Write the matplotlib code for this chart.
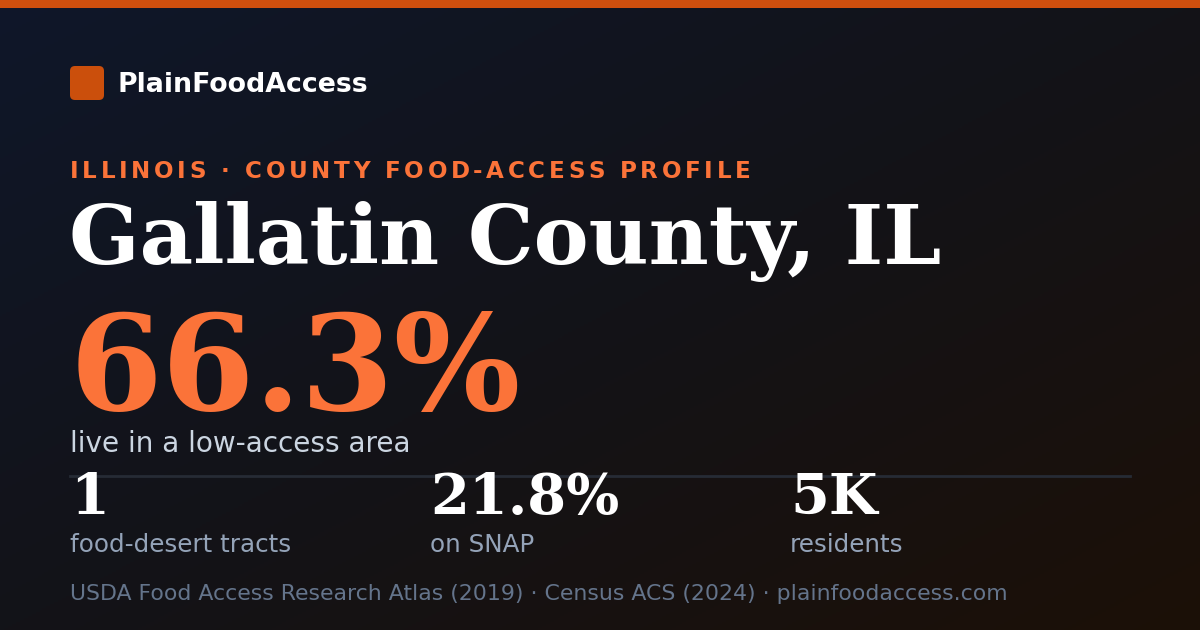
import numpy as np
import matplotlib
matplotlib.use("Agg")
from matplotlib import pyplot as plt
from matplotlib.patches import FancyBboxPatch, Rectangle
from matplotlib.colors import to_rgb

# card content
brand = "PlainFoodAccess"
kicker = "ILLINOIS · COUNTY FOOD-ACCESS PROFILE"
title = "Gallatin County, IL"
headline_value = "66.3%"
headline_label = "live in a low-access area"
stat_values = ["1", "21.8%", "5K"]
stat_labels = ["food-desert tracts", "on SNAP", "residents"]
source_line = "USDA Food Access Research Atlas (2019) · Census ACS (2024) · plainfoodaccess.com"

W, H = 1200, 630
fig = plt.figure(figsize=(12, 6.3), dpi=100)
ax = fig.add_axes([0, 0, 1, 1])
ax.set_xlim(0, W)
ax.set_ylim(H, 0)
ax.axis("off")

# diagonal background gradient, navy top-left to brown bottom-right
c0 = np.array(to_rgb("#0f172a"))
c1 = np.array(to_rgb("#131318"))
c2 = np.array(to_rgb("#1c1007"))
yy, xx = np.mgrid[0:H:2, 0:W:2]
t = (xx / W + yy / H) / 2.0
t = t[..., None]
grad = np.where(t < 0.5, c0 + (c1 - c0) * (t / 0.5), c1 + (c2 - c1) * ((t - 0.5) / 0.5))
ax.imshow(grad, extent=[0, W, H, 0], aspect="auto", zorder=0)

# top bar
ax.add_patch(Rectangle((0, 0), W, 8, color="#cf4f0e", zorder=1, lw=0))

# logo
ax.add_patch(FancyBboxPatch((70 + 5, 66 + 5), 24, 24, boxstyle="round,pad=5",
                            color="#cb4f0c", lw=0, zorder=2))
ax.text(118, 92, brand, color="white", fontsize=19.3, fontweight="bold",
        family="DejaVu Sans", va="baseline", zorder=3)

# kicker with letter spacing
fig.canvas.draw()
renderer = fig.canvas.get_renderer()
x = 70
spacing = 3.6
for ch in kicker:
    tt = ax.text(x, 178, ch, color="#fb7339", fontsize=16.6, fontweight="bold",
                 family="DejaVu Sans", va="baseline", zorder=3)
    if ch == " ":
        probe = ax.text(0, 0, "a a", fontsize=16.6, fontweight="bold", family="DejaVu Sans")
        probe2 = ax.text(0, 0, "aa", fontsize=16.6, fontweight="bold", family="DejaVu Sans")
        w = probe.get_window_extent(renderer).width - probe2.get_window_extent(renderer).width
        probe.remove()
        probe2.remove()
    else:
        w = tt.get_window_extent(renderer).width
    x += w + spacing

ax.text(69, 264, title, color="white", fontsize=59.5, fontweight="bold",
        family="DejaVu Serif", va="baseline", zorder=3)

ax.text(70, 410, headline_value, color="#fb7339", fontsize=96, fontweight="bold",
        family="DejaVu Serif", va="baseline", zorder=3)
ax.text(70, 452, headline_label, color="#cbd5e1", fontsize=20.1,
        family="DejaVu Sans", va="baseline", zorder=3)

# divider
ax.plot([70, 1130], [476, 476], color="#262b35", lw=2, zorder=2)

stat_x = [70, 430, 790]
for sx, v, lab in zip(stat_x, stat_values, stat_labels):
    ax.text(sx, 514, v, color="white", fontsize=40.2, fontweight="bold",
            family="DejaVu Serif", va="baseline", zorder=3)
    ax.text(sx, 552, lab, color="#94a3b8", fontsize=17.7,
            family="DejaVu Sans", va="baseline", zorder=3)

ax.text(70, 600, source_line, color="#64748b", fontsize=15.85,
        family="DejaVu Sans", va="baseline", zorder=3)

fig.savefig("out.png", dpi=100)
